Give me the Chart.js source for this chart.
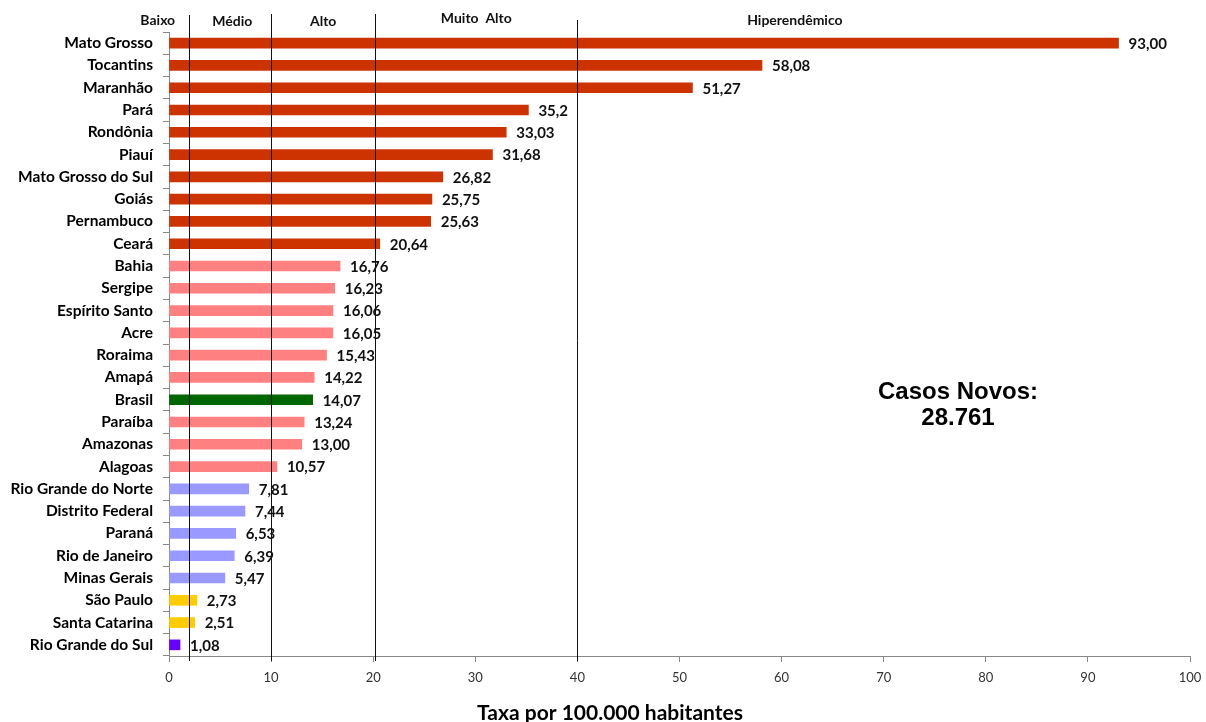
<!DOCTYPE html>
<html>
<head>
<meta charset="utf-8">
<script src="https://cdn.jsdelivr.net/npm/chart.js@4.4.1/dist/chart.umd.min.js"></script>
<style>
  html, body { margin: 0; padding: 0; background: #fff; }
  #wrap { width: 1206px; height: 722px; position: relative; }
</style>
</head>
<body>
<div id="wrap"><canvas id="c" width="1206" height="722"></canvas></div>
<script>
// Unidades da Federação, ordenadas pela taxa de detecção
const states = [
  'Mato Grosso', 'Tocantins', 'Maranhão', 'Pará', 'Rondônia', 'Piauí',
  'Mato Grosso do Sul', 'Goiás', 'Pernambuco', 'Ceará', 'Bahia', 'Sergipe',
  'Espírito Santo', 'Acre', 'Roraima', 'Amapá', 'Brasil', 'Paraíba',
  'Amazonas', 'Alagoas', 'Rio Grande do Norte', 'Distrito Federal', 'Paraná',
  'Rio de Janeiro', 'Minas Gerais', 'São Paulo', 'Santa Catarina', 'Rio Grande do Sul'
];

// Taxa por 100.000 habitantes, como aparece no rótulo de cada barra
const rateLabels = [
  '93,00', '58,08', '51,27', '35,2', '33,03', '31,68',
  '26,82', '25,75', '25,63', '20,64', '16,76', '16,23',
  '16,06', '16,05', '15,43', '14,22', '14,07', '13,24',
  '13,00', '10,57', '7,81', '7,44', '6,53',
  '6,39', '5,47', '2,73', '2,51', '1,08'
];
const rates = rateLabels.map(s => parseFloat(s.replace(',', '.')));

// Limites dos parâmetros de endemicidade
const bandLimits = [2, 10, 20, 40];
const bandNames = ['Baixo', 'Médio', 'Alto', 'Muito  Alto', 'Hiperendêmico'];

const xTicks = [0, 10, 20, 30, 40, 50, 60, 70, 80, 90, 100];
const totalLabel = ['Casos Novos:', '28.761'];
const xTitle = 'Taxa por 100.000 habitantes';

const FONT = 'Lato, "Open Sans", sans-serif';

function barColor(name, v) {
  if (name === 'Brasil') return '#006600';
  if (v >= 20) return '#CC3300';
  if (v >= 10) return '#FF8080';
  if (v >= 5) return '#9999FF';
  if (v >= 2) return '#FFCC00';
  return '#6600FF';
}

const overlay = {
  id: 'overlay',
  afterDatasetsDraw(chart) {
    const { ctx, chartArea } = chart;
    const xs = chart.scales.x;
    const meta = chart.getDatasetMeta(0);
    ctx.save();

    // linhas dos limites de cada faixa
    ctx.strokeStyle = '#111';
    ctx.lineWidth = 1;
    const tops = [15, 14, 14, 20];
    const nudge = [0, 0, 2, 0];
    bandLimits.forEach((v, i) => {
      const x = Math.round(xs.getPixelForValue(v)) + nudge[i] + 0.5;
      ctx.beginPath();
      ctx.moveTo(x, tops[i]);
      ctx.lineTo(x, chartArea.bottom + 5);
      ctx.stroke();
    });

    // nomes das faixas
    ctx.fillStyle = '#111';
    ctx.font = 'bold 14px ' + FONT;
    ctx.textAlign = 'center';
    ctx.textBaseline = 'middle';
    const anchors = [-1.1, 6.2, 15.1, 30.1, 61.3];
    const ys = [20, 21, 21, 18, 20];
    bandNames.forEach((n, i) => {
      ctx.fillText(n, xs.getPixelForValue(anchors[i]), ys[i]);
    });

    // valores das barras
    ctx.font = 'bold 15px ' + FONT;
    ctx.textAlign = 'left';
    ctx.fillStyle = '#111';
    meta.data.forEach((el, i) => {
      ctx.fillText(rateLabels[i], el.x + 10, el.y + 1);
    });

    // total de casos novos
    ctx.font = 'bold 24px "Liberation Sans", Arial, sans-serif';
    ctx.textAlign = 'center';
    ctx.fillStyle = '#000';
    ctx.fillText(totalLabel[0], 958, 392);
    ctx.fillText(totalLabel[1], 958, 418);

    // título do eixo x
    ctx.font = 'bold 21px ' + FONT;
    ctx.fillText(xTitle, 610, 713);
    ctx.restore();
  }
};

new Chart(document.getElementById('c'), {
  type: 'bar',
  data: {
    labels: states,
    datasets: [{
      data: rates,
      backgroundColor: states.map((s, i) => barColor(s, rates[i])),
      barThickness: 10,
      borderWidth: 0
    }]
  },
  options: {
    indexAxis: 'y',
    responsive: false,
    devicePixelRatio: 1,
    animation: false,
    layout: { padding: { top: 32, right: 16, left: 0, bottom: 0 } },
    plugins: { legend: { display: false }, tooltip: { enabled: false } },
    scales: {
      x: {
        min: 0, max: 100,
        afterBuildTicks: s => { s.ticks = xTicks.map(v => ({ value: v })); },
        ticks: { color: '#333', font: { family: FONT, size: 13 }, padding: 8 },
        grid: { drawOnChartArea: false, drawTicks: true, tickLength: 6, color: '#888' },
        border: { display: true, color: '#888' },
        afterFit: s => { s.height = 66; s.paddingLeft = 0; s.paddingRight = 0; }
      },
      y: {
        ticks: { color: '#000', font: { family: FONT, size: 15.5, weight: 'bold' }, padding: 10, autoSkip: false },
        grid: { drawOnChartArea: false, drawTicks: true, tickLength: 6, color: '#888', offset: true },
        border: { display: true, color: '#888' },
        afterFit: s => { s.width = 169; }
      }
    }
  },
  plugins: [overlay]
});
</script>
</body>
</html>
